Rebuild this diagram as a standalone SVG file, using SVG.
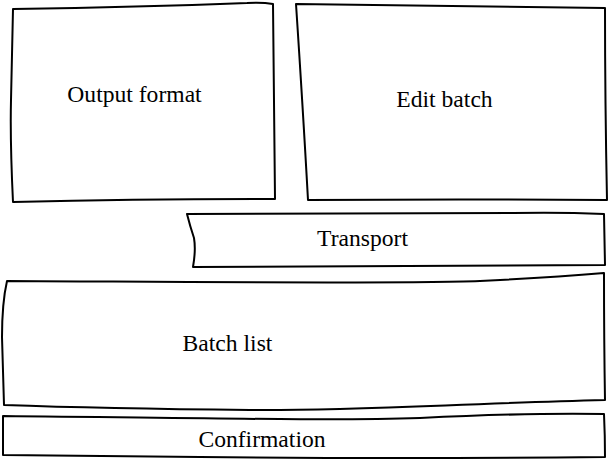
<svg xmlns="http://www.w3.org/2000/svg" width="609" height="461" viewBox="0 0 609 461">
  <style>
    .box { fill: #ffffff; stroke: #000000; stroke-width: 2; stroke-linejoin: round; stroke-linecap: round; }
    .label { font-size: 23.6px; fill: #000000; text-anchor: middle; }
  </style>
  <rect width="609" height="461" fill="#ffffff"/>
  <g id="node-output-format">
    <path class="box" d="M13,9 Q140,7 247,3 Q262,2 273,4 Q274,100 275,199 Q140,199 13,202 Q10,140 11,100 Q12,50 13,9 Z"/>
    <text class="label" font-family="Liberation Serif, serif" x="134.5" y="102">Output format</text>
  </g>
  <g id="node-edit-batch">
    <path class="box" d="M296,4 Q450,6 605,8 Q605,100 607,200 Q460,199 308,200 Q303,110 296,4 Z"/>
    <text class="label" font-family="Liberation Serif, serif" x="444.5" y="107">Edit batch</text>
  </g>
  <g id="node-transport">
    <path class="box" d="M187,214 Q350,213 513,213 Q560,212 604,214 L605,265 Q400,266 193,267 Q196,250 194,238 Q190,226 187,214 Z"/>
    <text class="label" font-family="Liberation Serif, serif" x="362.5" y="246">Transport</text>
  </g>
  <g id="node-batch-list">
    <path class="box" d="M7,281 C200,282 400,284 480,281 C540,278 580,275 604,273 Q604,340 605,400 C450,404 350,411 250,410 C150,409 60,407 4,405 Q3,370 2,337 Q2,303 7,281 Z"/>
    <text class="label" font-family="Liberation Serif, serif" x="227.5" y="351">Batch list</text>
  </g>
  <g id="node-confirmation">
    <path class="box" d="M3,416 C200,418 330,421 420,418 C480,415 540,413 604,414 Q605,436 605,457 Q400,459 200,457 Q100,456 3,455 Q3,436 3,416 Z"/>
    <text class="label" font-family="Liberation Serif, serif" x="262" y="447">Confirmation</text>
  </g>
  <g id="connectors"/>
</svg>
